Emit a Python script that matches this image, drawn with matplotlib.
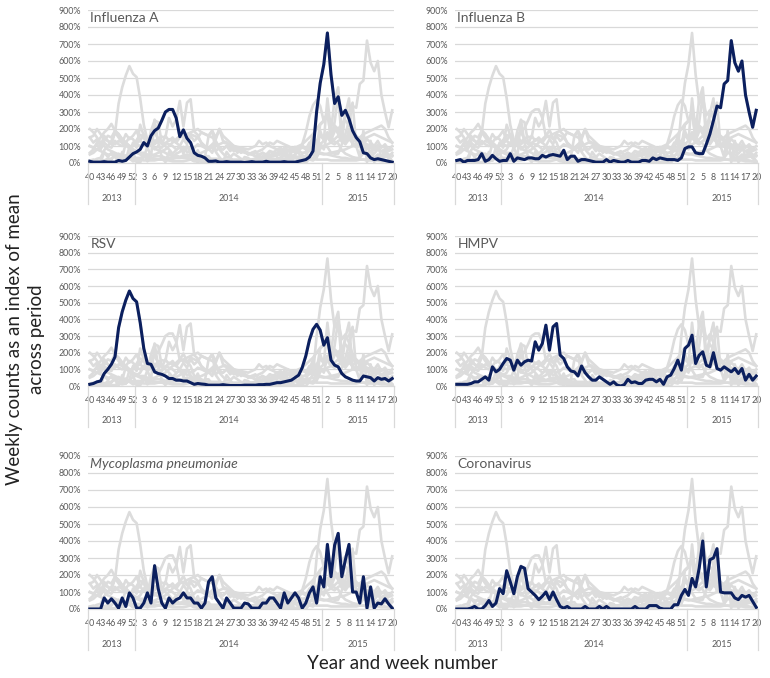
import matplotlib
matplotlib.use("Agg")
import matplotlib.pyplot as plt
import matplotlib.transforms as mtransforms

plt.rcParams['font.family'] = ['Lato', 'DejaVu Sans']

# ---- categories: 2013 wk40 .. 2015 wk20 ----
weeks_2013 = list(range(40, 53))
weeks_2014 = list(range(1, 53))
weeks_2015 = list(range(1, 21))
week_numbers = weeks_2013 + weeks_2014 + weeks_2015
years = ["2013", "2014", "2015"]
year_sizes = [len(weeks_2013), len(weeks_2014), len(weeks_2015)]
tick_every = 3
y_ticks = [0, 100, 200, 300, 400, 500, 600, 700, 800, 900]

# ---- highlighted pathogen series (index, % of mean) ----
influenza_a = [10, 5, 5, 5, 8, 5, 5, 5, 15, 10, 15, 35, 55,
               65, 80, 120, 100, 160, 190, 205, 250, 300, 315, 315, 265, 155, 195, 145, 120, 60,
               45, 40, 30, 10, 10, 12, 5, 5, 8, 5, 5, 5, 5, 3, 5, 8, 5, 5, 5, 10,
               5, 5, 5, 5, 8, 5, 5, 5, 10, 15, 20, 35, 70, 300, 470,
               580, 765, 520, 350, 390, 280, 310, 260, 190, 150, 125, 60, 55, 30, 20,
               25, 20, 15, 10, 5]
influenza_b = [15, 20, 5, 15, 15, 15, 20, 55, 10, 20, 45, 25, 10,
               15, 15, 55, 10, 30, 25, 20, 30, 30, 25, 25, 45, 35, 45, 50, 45, 40,
               75, 20, 40, 40, 10, 20, 20, 15, 10, 5, 5, 5, 20, 5, 15, 10, 5, 5,
               15, 5, 5, 5, 15, 15, 10, 30, 20, 30, 25, 20, 20, 20, 15, 30, 85,
               95, 95, 60, 55, 55, 110, 170, 250, 335, 325, 465, 485, 720, 590, 540,
               600, 400, 300, 210, 310]
rsv = [10, 15, 25, 30, 75, 100, 130, 175, 350, 445, 515, 570, 525,
       505, 380, 225, 135, 130, 85, 75, 70, 60, 45, 45, 35, 35, 30, 30, 20, 10,
       15, 12, 10, 5, 5, 5, 5, 8, 5, 3, 3, 3, 3, 5, 5, 5, 5, 8, 8, 10,
       10, 15, 20, 20, 25, 30, 35, 50, 65, 110, 180, 275, 340, 370, 335,
       245, 290, 155, 125, 115, 75, 55, 45, 35, 30, 30, 60, 55, 50, 30,
       50, 40, 45, 30, 45]
hmpv = [10, 10, 10, 10, 15, 25, 25, 40, 55, 35, 115, 85, 100,
        135, 165, 155, 95, 155, 125, 145, 155, 150, 265, 215, 255, 365, 215, 355, 375, 185,
        165, 115, 90, 85, 60, 120, 80, 55, 35, 35, 55, 40, 25, 10, 25, 5, 0, 8,
        40, 20, 25, 15, 15, 35, 40, 40, 25, 40, 10, 55, 65, 105, 155, 95, 225,
        245, 305, 135, 185, 205, 125, 115, 200, 105, 95, 115, 100, 85, 105, 75,
        105, 35, 70, 35, 60]
mycoplasma = [0, 0, 0, 0, 65, 35, 60, 35, 5, 65, 15, 95, 65,
              5, 5, 35, 95, 35, 255, 120, 35, 5, 65, 35, 55, 65, 95, 65, 65, 35,
              35, 5, 35, 160, 190, 65, 35, 5, 65, 35, 5, 5, 5, 35, 30, 5, 5, 5,
              35, 35, 65, 65, 35, 5, 95, 35, 65, 95, 65, 5, 35, 95, 130, 35, 190,
              130, 380, 190, 375, 445, 190, 290, 380, 100, 100, 35, 190, 5, 130, 5,
              35, 30, 60, 30, 5]
coronavirus = [0, 0, 0, 0, 5, 15, 0, 0, 20, 50, 15, 35, 120,
               90, 225, 160, 90, 190, 250, 240, 120, 100, 80, 55, 75, 100, 55, 100, 55, 15,
               5, 15, 0, 0, 0, 0, 15, 0, 0, 0, 15, 0, 15, 0, 0, 0, 0, 0,
               0, 0, 15, 0, 0, 0, 20, 20, 20, 5, 0, 0, 0, 25, 25, 80, 115,
               80, 180, 130, 240, 400, 130, 290, 300, 355, 100, 95, 95, 95, 65, 55,
               80, 70, 80, 45, 10]

# ---- other pathogens (drawn in grey only) ----
rhinovirus = [150, 160, 200, 170, 140, 130, 120, 110, 130, 120, 100, 90, 110,
              120, 130, 110, 100, 120, 110, 130, 120, 110, 140, 130, 120, 150, 160, 140, 170, 160,
              150, 180, 170, 160, 150, 140, 200, 130, 120, 100, 90, 80, 70, 60, 55, 50, 60, 70,
              80, 100, 120, 110, 130, 120, 110, 100, 90, 80, 70, 60, 60, 70, 80, 90, 100,
              100, 110, 120, 110, 130, 140, 120, 150, 160, 140, 150, 170, 180, 190, 200,
              210, 220, 200, 150, 120]
parainfluenza_1 = [60, 80, 120, 150, 180, 200, 230, 190, 170, 140, 120, 100, 80,
                   60, 50, 40, 30, 30, 25, 20, 20, 15, 15, 10, 10, 10, 10, 15, 20, 20,
                   25, 30, 25, 20, 20, 15, 15, 10, 10, 10, 10, 10, 15, 15, 20, 20, 25, 30,
                   35, 40, 45, 50, 55, 60, 70, 80, 75, 70, 80, 90, 85, 80, 70, 65, 60,
                   55, 50, 45, 40, 35, 30, 30, 25, 25, 20, 20, 20, 15, 15, 15,
                   15, 10, 10, 10, 10]
parainfluenza_3 = [100, 90, 80, 70, 60, 50, 50, 40, 40, 30, 30, 30, 30,
                   30, 30, 35, 40, 45, 50, 60, 70, 80, 100, 120, 140, 160, 150, 170, 180, 190,
                   200, 180, 170, 160, 190, 150, 200, 160, 140, 120, 100, 90, 80, 70, 60, 50, 40, 35,
                   30, 30, 25, 25, 20, 20, 20, 25, 30, 30, 35, 40, 40, 45, 50, 50, 55,
                   50, 55, 60, 65, 70, 75, 80, 90, 100, 110, 120, 140, 150, 160, 170,
                   160, 150, 140, 130, 120]
adenovirus = [150, 120, 140, 100, 160, 130, 110, 180, 150, 120, 170, 140, 160,
              190, 130, 170, 120, 150, 180, 140, 110, 160, 130, 150, 120, 100, 140, 110, 160, 130,
              150, 120, 100, 90, 110, 130, 90, 80, 100, 70, 90, 60, 80, 70, 50, 60, 70, 40,
              60, 50, 70, 60, 80, 90, 70, 100, 80, 60, 90, 100, 80, 120, 110, 130, 160,
              140, 180, 150, 210, 170, 190, 140, 160, 120, 150, 130, 110, 140, 120, 100,
              130, 90, 110, 80, 100]
enterovirus = [200, 180, 150, 120, 100, 80, 70, 60, 50, 40, 30, 30, 25,
               20, 20, 15, 15, 15, 15, 20, 20, 20, 25, 25, 30, 30, 35, 40, 40, 45,
               50, 60, 70, 80, 90, 100, 110, 120, 115, 110, 100, 95, 90, 85, 80, 90, 100, 130,
               110, 120, 100, 90, 80, 70, 60, 50, 45, 40, 35, 30, 30, 25, 25, 20, 20,
               20, 20, 15, 15, 15, 15, 15, 15, 15, 15, 20, 20, 20, 25, 25,
               30, 30, 35, 40, 45]
parainfluenza_2 = [50, 60, 80, 100, 130, 160, 150, 190, 170, 140, 120, 100, 80,
                   70, 60, 60, 50, 50, 40, 40, 40, 30, 30, 30, 30, 30, 30, 30, 25, 25,
                   25, 25, 25, 25, 25, 25, 25, 20, 20, 20, 20, 20, 20, 20, 20, 20, 25, 25,
                   30, 30, 35, 40, 45, 50, 60, 70, 80, 90, 100, 110, 130, 150, 170, 200, 230,
                   250, 280, 240, 220, 200, 230, 250, 220, 180, 160, 140, 120, 110, 100, 90,
                   80, 70, 60, 50, 40]
chlamydia = [100, 90, 110, 80, 120, 100, 90, 130, 110, 100, 120, 150, 140,
             110, 100, 120, 90, 110, 80, 100, 90, 120, 110, 100, 80, 90, 70, 100, 80, 90,
             110, 100, 90, 80, 100, 70, 90, 80, 100, 90, 70, 80, 60, 70, 50, 60, 40, 50,
             60, 40, 70, 50, 60, 80, 50, 70, 60, 90, 80, 100, 90, 80, 100, 120, 110,
             130, 150, 120, 140, 160, 130, 110, 140, 120, 100, 110, 90, 100, 110, 90,
             80, 100, 90, 70, 80]

panels = [
    ("Influenza A", influenza_a, "normal"),
    ("Influenza B", influenza_b, "normal"),
    ("RSV", rsv, "normal"),
    ("HMPV", hmpv, "normal"),
    ("Mycoplasma pneumoniae", mycoplasma, "italic"),
    ("Coronavirus", coronavirus, "normal"),
]
all_series = [influenza_a, influenza_b, rsv, hmpv, mycoplasma, coronavirus,
              rhinovirus, parainfluenza_1, parainfluenza_3, adenovirus,
              enterovirus, parainfluenza_2, chlamydia]

NAVY = "#0B1F5E"
GREY = "#DCDCDC"
GRID = "#D9D9D9"
TXT = "#595959"

W, H = 770, 678
fig = plt.figure(figsize=(W / 100, H / 100), dpi=100)

col_px = [(88, 394), (455, 758)]
row_px = [(10, 163), (236, 386), (456, 609)]

x = list(range(len(week_numbers)))
tick_pos = [i for i in x if i % tick_every == 0]
tick_lab = [str(week_numbers[i]) for i in tick_pos]

bounds = [-0.5]
for s in year_sizes:
    bounds.append(bounds[-1] + s)
year_centers = [(bounds[k] + bounds[k + 1]) / 2 for k in range(len(years))]

for idx, (title, series, style) in enumerate(panels):
    r, c = divmod(idx, 2)
    x0, x1 = col_px[c]
    y0, y1 = row_px[r]
    ax = fig.add_axes([x0 / W, 1 - y1 / H, (x1 - x0) / W, (y1 - y0) / H])
    for s in all_series:
        ax.plot(x, s, color=GREY, lw=1.9, solid_joinstyle="round", zorder=2)
    ax.plot(x, series, color=NAVY, lw=2.2, solid_joinstyle="round", zorder=3)
    ax.set_xlim(-0.5, len(x) - 0.5)
    ax.set_ylim(0, 900)
    ax.set_yticks(y_ticks)
    ax.set_yticklabels([f"{v}%" for v in y_ticks])
    ax.yaxis.grid(True, color=GRID, lw=0.9, zorder=0)
    ax.set_axisbelow(True)
    for sp in ["top", "right", "left"]:
        ax.spines[sp].set_visible(False)
    ax.spines["bottom"].set_color(GRID)
    ax.spines["bottom"].set_linewidth(0.9)
    ax.set_xticks(tick_pos)
    ax.set_xticklabels(tick_lab)
    ax.tick_params(axis="both", length=0, labelsize=6.4, colors=TXT)
    ax.tick_params(axis="x", pad=7)
    ax.tick_params(axis="y", pad=5)
    trans = mtransforms.blended_transform_factory(ax.transData, ax.transAxes)
    for b in bounds:
        ax.plot([b, b], [0, -0.27], transform=trans, color=GRID, lw=0.9,
                clip_on=False, zorder=1)
    for yc, yl in zip(year_centers, years):
        ax.text(yc, -0.232, yl, transform=trans, ha="center", va="center",
                fontsize=6.4, color=TXT)
    ax.text(0.008, 0.985, title, transform=ax.transAxes, ha="left", va="top",
            fontsize=10, color=TXT, style=style, zorder=4)

fig.text(0.033, 0.50, "Weekly counts as an index of mean\nacross period",
         rotation=90, ha="center", va="center", fontsize=13.5, linespacing=1.35,
         color="#222222")
fig.text(0.522, 0.022, "Year and week number", ha="center", va="center",
         fontsize=13.5, color="#222222")

fig.savefig("out.png", dpi=100)
